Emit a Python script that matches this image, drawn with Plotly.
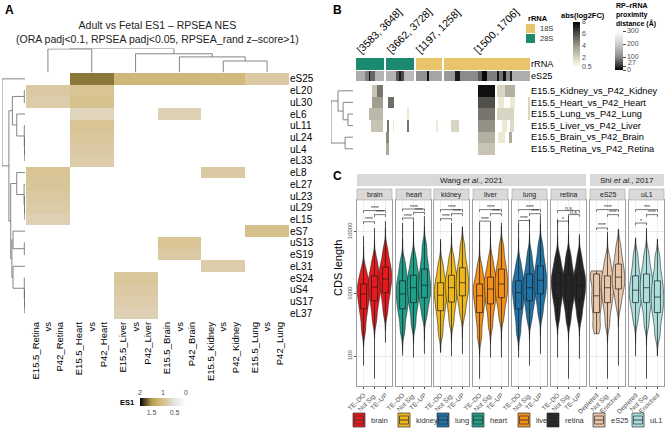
import numpy as np
import plotly.graph_objects as go

W, H = 669, 431
FONT = "Liberation Sans, Arial, Helvetica, sans-serif"
N = None

# ---------------- Panel A: ES1 heatmap ----------------
a_rows = ["eS25", "eL20", "uL30", "eL6", "uL11", "uL24", "uL4", "eL33", "eL8", "eL27", "uL23",
          "uL29", "eL15", "eS7", "uS13", "eS19", "eL31", "eS24", "uS4", "uS17", "eL37"]
a_cols = ["Retina", "Heart", "Liver", "Brain", "Kidney", "Lung"]
es1_retina = [N, 0.85, 0.80, N, N, N, N, N, 0.95, 0.92, 0.88, 0.82, 0.75, N, N, N, N, N, N, N, N]
es1_heart = [1.62, 0.95, 1.00, 0.70, 0.95, 0.90, 0.85, 0.80, N, N, N, N, N, N, N, N, N, N, N, N, N]
es1_liver = [1.15, N, N, N, N, N, N, N, N, N, N, N, N, N, N, N, N, 0.90, 0.85, 0.80, 0.75]
es1_brain = [1.15, N, N, 0.75, N, N, N, N, N, N, N, N, N, N, 0.95, 0.85, N, N, N, N, N]
es1_kidney = [1.12, N, N, N, N, N, N, N, 0.85, N, N, N, N, N, N, N, 0.80, N, N, N, N]
es1_lung = [0.85, N, N, N, N, N, N, N, N, N, N, N, N, 1.00, N, N, N, N, N, N, N]

# dendrograms as linkage lists (child a, child b, height); ids >= n are earlier merges
col_merge_a = [4, 3, 2, 0, 9]
col_merge_b = [5, 6, 7, 1, 8]
col_merge_h = [0.48, 0.65, 0.78, 0.98, 1.0]

row_merge_a = [1, 6, 5, 4, 3, 21, 11, 10, 9, 8, 14, 13, 19, 18, 17, 16, 32, 30, 26, 0]
row_merge_b = [2, 7, 22, 23, 24, 25, 12, 27, 28, 29, 15, 31, 20, 33, 34, 35, 36, 37, 38, 39]
row_merge_h = [0.03, 0.01, 0.02, 0.03, 0.36, 0.55, 0.01, 0.02, 0.04, 0.36,
               0.03, 0.52, 0.01, 0.02, 0.03, 0.52, 0.57, 0.62, 0.70, 1.0]

# ---------------- Panel B: abs(log2FC) per rRNA position ----------------
b_rows = ["E15.5_Kidney_vs_P42_Kidney", "E15.5_Heart_vs_P42_Heart", "E15.5_Lung_vs_P42_Lung",
          "E15.5_Liver_vs_P42_Liver", "E15.5_Brain_vs_P42_Brain", "E15.5_Retina_vs_P42_Retina"]
blk_rrna = ["28S", "28S", "18S", "18S"]
blk_start = [3583, 3662, 1197, 1500]
blk_end = [3648, 3728, 1258, 1706]

fc_row = [0, 0, 0, 0, 0, 0,
          1, 1, 1, 1, 1, 1,
          2, 2, 2, 2, 2,
          3, 3, 3, 3, 3, 3, 3, 3, 3,
          4, 4, 4, 4,
          5, 5]
fc_first = [3621, 3633, 3674, 1583, 1627, 1647,
            3621, 3668, 1583, 1631, 1659, 1702,
            3613, 3713, 1583, 1627, 1702,
            3618, 3666, 3680, 3713, 1245, 1518, 1583, 1639, 1659,
            3662, 1583, 1631, 1657,
            3662, 1583]
fc_last = [3632, 3647, 3674, 1623, 1646, 1671,
           3647, 3682, 1623, 1643, 1671, 1706,
           3647, 3717, 1623, 1667, 1706,
           3647, 3668, 3682, 3718, 1249, 1535, 1623, 1651, 1667,
           3670, 1623, 1647, 1663,
           3670, 1623]
fc_value = [2.6, 5.0, 1.5, 7.6, 2.0, 3.3,
            3.9, 5.2, 6.0, 1.3, 1.3, 2.0,
            3.0, 1.3, 5.0, 2.0, 2.0,
            2.6, 5.0, 1.3, 5.0, 1.3, 2.0, 4.3, 1.3, 1.8,
            4.5, 3.3, 1.3, 3.5,
            3.5, 2.6]

# eS25 - rRNA proximity distance (Angstrom)
dist_first = [3583, 3605, 3613, 3617, 3629, 3662, 3686, 3694, 3698, 3705, 1197, 1223, 1229,
              1500, 1527, 1539, 1583, 1591, 1603, 1627, 1632, 1643, 1649, 1659, 1665]
dist_last = [3604, 3612, 3616, 3628, 3648, 3685, 3693, 3697, 3704, 3728, 1222, 1228, 1258,
             1526, 1538, 1582, 1590, 1602, 1626, 1631, 1642, 1648, 1658, 1664, 1706]
dist_value = [150, 90, 10, 70, 160, 160, 60, 15, 50, 170, 110, 10, 140,
              120, 15, 100, 60, 5, 90, 10, 80, 10, 100, 20, 150]

# ---------------- Panel C: CDS length distributions (log10) ----------------
c_tissues = ["brain", "heart", "kidney", "liver", "lung", "retina", "eS25", "uL1"]
c_groups_wang = ["TE–DO", "Not Sig.", "TE–UP"]
c_groups_shi = ["Depleted", "Not Sig.", "Enriched"]
c_colors = {"brain": "#E41A1C", "heart": "#1F9E89", "kidney": "#EDB71E", "liver": "#F39019",
            "lung": "#1F73A5", "retina": "#262626", "eS25": "#E9C7AA", "uL1": "#ABDEDD"}

# ten equal-probability quantiles (5%..95%) of log10 CDS length
cds_quant = {
    "brain": [[2.42, 2.63, 2.76, 2.86, 2.95, 3.03, 3.09, 3.16, 3.25, 3.38],
              [2.58, 2.77, 2.89, 2.99, 3.07, 3.14, 3.21, 3.29, 3.39, 3.54],
              [2.71, 2.90, 3.02, 3.12, 3.20, 3.28, 3.35, 3.43, 3.53, 3.70]],
    "heart": [[2.42, 2.63, 2.76, 2.86, 2.95, 3.04, 3.12, 3.21, 3.33, 3.50],
              [2.52, 2.73, 2.86, 2.96, 3.05, 3.14, 3.21, 3.30, 3.41, 3.58],
              [2.66, 2.83, 2.94, 3.03, 3.10, 3.19, 3.29, 3.40, 3.54, 3.76]],
    "kidney": [[2.38, 2.59, 2.73, 2.84, 2.93, 3.02, 3.09, 3.18, 3.29, 3.46],
               [2.55, 2.74, 2.87, 2.97, 3.06, 3.14, 3.21, 3.30, 3.41, 3.58],
               [2.68, 2.85, 2.97, 3.06, 3.14, 3.23, 3.32, 3.42, 3.55, 3.76]],
    "liver": [[2.32, 2.55, 2.70, 2.82, 2.92, 3.01, 3.08, 3.16, 3.26, 3.43],
              [2.50, 2.71, 2.84, 2.94, 3.03, 3.12, 3.19, 3.27, 3.37, 3.54],
              [2.63, 2.82, 2.94, 3.03, 3.12, 3.21, 3.30, 3.40, 3.53, 3.74]],
    "lung": [[2.40, 2.62, 2.76, 2.87, 2.97, 3.06, 3.13, 3.21, 3.31, 3.48],
             [2.60, 2.77, 2.89, 2.98, 3.06, 3.14, 3.23, 3.32, 3.44, 3.63],
             [2.69, 2.88, 3.00, 3.09, 3.18, 3.26, 3.35, 3.45, 3.58, 3.77]],
    "retina": [[2.63, 2.82, 2.94, 3.03, 3.12, 3.19, 3.26, 3.34, 3.44, 3.59],
               [2.58, 2.77, 2.89, 2.98, 3.07, 3.15, 3.23, 3.32, 3.44, 3.61],
               [2.63, 2.80, 2.92, 3.01, 3.09, 3.17, 3.24, 3.32, 3.42, 3.59]],
    "eS25": [[2.42, 2.52, 2.70, 2.82, 2.92, 3.02, 3.15, 3.28, 3.32, 3.35],
             [2.52, 2.73, 2.86, 2.96, 3.05, 3.13, 3.21, 3.29, 3.40, 3.56],
             [2.81, 2.98, 3.08, 3.16, 3.23, 3.31, 3.39, 3.48, 3.60, 3.77]],
    "uL1": [[2.58, 2.75, 2.86, 2.95, 3.02, 3.10, 3.19, 3.29, 3.42, 3.61],
            [2.52, 2.73, 2.86, 2.96, 3.05, 3.14, 3.23, 3.32, 3.44, 3.63],
            [2.35, 2.56, 2.70, 2.81, 2.90, 3.00, 3.10, 3.21, 3.35, 3.57]],
}
cds_min = {"brain": [1.85, 1.64, 2.22], "heart": [2.01, 1.98, 2.04], "kidney": [2.06, 2.00, 2.04],
           "liver": [1.64, 1.98, 1.98], "lung": [1.98, 1.85, 2.04], "retina": [1.98, 1.64, 1.96],
           "eS25": [2.36, 1.64, 1.85], "uL1": [2.00, 1.64, 2.00]}
cds_max = {"brain": [3.93, 4.06, 4.17], "heart": [4.14, 4.18, 4.25], "kidney": [3.88, 4.14, 4.08],
           "liver": [4.14, 4.14, 4.14], "lung": [4.14, 4.20, 4.25], "retina": [4.20, 4.25, 3.96],
           "eS25": [3.37, 4.00, 4.04], "uL1": [3.90, 4.06, 3.88]}
cds_q1 = {"brain": [2.76, 2.89, 3.02], "heart": [2.76, 2.86, 2.94], "kidney": [2.73, 2.87, 2.97],
          "liver": [2.70, 2.84, 2.94], "lung": [2.76, 2.89, 3.00], "retina": [2.94, 2.89, 2.92],
          "eS25": [2.70, 2.86, 3.08], "uL1": [2.86, 2.86, 2.70]}
cds_med = {"brain": [3.00, 3.11, 3.24], "heart": [3.00, 3.10, 3.14], "kidney": [2.98, 3.10, 3.18],
           "liver": [2.97, 3.08, 3.16], "lung": [3.02, 3.10, 3.22], "retina": [3.16, 3.11, 3.13],
           "eS25": [2.97, 3.10, 3.27], "uL1": [3.06, 3.10, 2.95]}
cds_q3 = {"brain": [3.16, 3.29, 3.43], "heart": [3.21, 3.30, 3.40], "kidney": [3.18, 3.30, 3.42],
          "liver": [3.16, 3.27, 3.40], "lung": [3.21, 3.32, 3.45], "retina": [3.34, 3.32, 3.32],
          "eS25": [3.32, 3.29, 3.48], "uL1": [3.29, 3.32, 3.21]}

# significance brackets: (all three, middle-right, left-middle)
sig_y = {"brain": [4.34, 4.275, 4.16], "heart": [4.365, 4.31, 4.22], "kidney": [4.355, 4.29, 4.21],
         "liver": [4.355, 4.29, 4.17], "lung": [4.355, 4.29, 4.18], "retina": [4.34, 4.275, 4.17],
         "eS25": [4.355, 4.275, 4.06], "uL1": [4.355, 4.275, 4.14]}
sig_text = {"brain": ["****", "****", "****"], "heart": ["****", "****", "****"],
            "kidney": ["****", "****", "****"], "liver": ["****", "****", "****"],
            "lung": ["****", "****", "****"], "retina": ["n.s.", "n.s.", "*"],
            "eS25": ["****", "****", "****"], "uL1": ["***", "****", "*"]}
sig_pairs = [(0, 2), (1, 2), (0, 1)]
legend_order = ["brain", "kidney", "lung", "heart", "liver", "retina", "eS25", "uL1"]


def px_x(p):
    return p / W


def px_y(p):
    return 1 - p / H


def note(x, y, text, size, color="black", xanchor="center", yanchor="middle", **kw):
    # annotation placed in page pixels
    return dict(x=px_x(x), y=px_y(y), xref="paper", yref="paper", text=text, showarrow=False,
                xanchor=xanchor, yanchor=yanchor, font=dict(size=size, color=color), **kw)


def dendro_lines(ma, mb, mh, leaf_pos):
    pos = list(leaf_pos)
    hgt = [0.0] * len(leaf_pos)
    xs, ys = [], []
    for a, b, h in zip(ma, mb, mh):
        for c in (a, b):
            xs += [pos[c], pos[c], None]
            ys += [hgt[c], h, None]
        xs += [pos[a], pos[b], None]
        ys += [h, h, None]
        pos.append((pos[a] + pos[b]) / 2)
        hgt.append(h)
    return xs, ys


fig = go.Figure()
ann = []
shapes = []

# ================= Panel A =================
es1 = np.array([es1_retina, es1_heart, es1_liver, es1_brain, es1_kidney, es1_lung], dtype=float).T
es1_scale = [[0.0, "#000000"], [0.125, "#5E5128"], [0.25, "#B39A4A"], [0.4, "#CDB373"],
             [0.5, "#D6C18C"], [0.6, "#DCCCAA"], [0.75, "#E8E4E2"], [1.0, "#FFFFFF"]]
cb_a_left, cb_a_len = 140, 46
fig.add_trace(go.Heatmap(
    z=-es1, x=list(range(6)), y=list(range(len(a_rows))), colorscale=es1_scale,
    zmin=-2, zmax=0, hoverinfo="skip",
    colorbar=dict(orientation="h", x=px_x(cb_a_left + cb_a_len / 2), xanchor="center",
                  y=px_y(398), yanchor="top", len=cb_a_len, lenmode="pixels", thickness=8,
                  xpad=0, ypad=0, outlinewidth=0, tickvals=[-1.5, -0.5], ticktext=["1.5", "0.5"],
                  ticks="", tickfont=dict(size=7, color="#4D4D4D")),
))
for v in (2, 1, 0):
    ann.append(note(cb_a_left + (2 - v) / 2 * cb_a_len, 392, str(v), 7, "#4D4D4D"))
ann.append(note(136, 402, "<b>ES1</b>", 7.5, xanchor="right"))

cx, cy = dendro_lines(col_merge_a, col_merge_b, col_merge_h, range(6))
fig.add_trace(go.Scatter(x=cx, y=cy, mode="lines", line=dict(color="#666666", width=0.8),
                         hoverinfo="skip", xaxis="x2", yaxis="y2"))
rx, ry = dendro_lines(row_merge_a, row_merge_b, row_merge_h, range(len(a_rows)))
fig.add_trace(go.Scatter(x=ry, y=rx, mode="lines", line=dict(color="#666666", width=0.8),
                         hoverinfo="skip", xaxis="x3", yaxis="y3"))

ann.append(note(157, 32, "Adult vs Fetal ES1 – RPSEA NES<br>"
                "(ORA padj<0.1, RPSEA padj<0.05, RPSEA_rand z–score>1)", 10.5, "#222222"))

# ================= Panel B =================
GAP = 5
col_nt, col_blk, blk_center = [], [], []
for k in range(len(blk_start)):
    if k:
        col_nt += [None] * GAP
        col_blk += [None] * GAP
    first = len(col_nt)
    col_nt += list(range(blk_start[k], blk_end[k] + 1))
    col_blk += [k] * (blk_end[k] - blk_start[k] + 1)
    blk_center.append((first + len(col_nt) - 1) / 2)
ncol = len(col_nt)
nt_index = {nt: i for i, nt in enumerate(col_nt) if nt is not None}

rrna_z = np.full((1, ncol), np.nan)
for i, k in enumerate(col_blk):
    if k is not None:
        rrna_z[0, i] = 0 if blk_rrna[k] == "28S" else 1
fc_z = np.full((len(b_rows), ncol), np.nan)
for r, a, b, v in zip(fc_row, fc_first, fc_last, fc_value):
    fc_z[r, nt_index[a]:nt_index[b] + 1] = v
dist_z = np.full((1, ncol), np.nan)
for a, b, v in zip(dist_first, dist_last, dist_value):
    dist_z[0, nt_index[a]:nt_index[b] + 1] = v

c18, c28 = "#E9C46A", "#1B8A6E"
xs_b = list(range(ncol))
fig.add_trace(go.Heatmap(z=rrna_z, x=xs_b, y=[58, 70], zmin=0, zmax=1, showscale=False,
                         colorscale=[[0, c28], [0.5, c28], [0.5, c18], [1, c18]], hoverinfo="skip",
                         xaxis="x4", yaxis="y4"))
prox_top, prox_len = 31, 39
fig.add_trace(go.Heatmap(
    z=dist_z, x=xs_b, y=[71, 81], zmin=0, zmax=300, hoverinfo="skip", xaxis="x4", yaxis="y4",
    colorscale=[[0, "#000000"], [0.09, "#2E2E2E"], [0.33, "#8A8A8A"], [0.67, "#CFCFCF"], [1, "#FFFFFF"]],
    colorbar=dict(x=px_x(615), xanchor="left", y=px_y(prox_top), yanchor="top", len=prox_len,
                  lenmode="pixels", thickness=8, xpad=0, ypad=0, outlinewidth=0,
                  tickvals=[0, 27, 100, 200, 300], ticktext=["0", "", "100", "200", "300"],
                  ticks="outside", ticklen=3, tickcolor="#4D4D4D", tickfont=dict(size=7, color="#4D4D4D")),
))
ann.append(note(626, prox_top + prox_len * (1 - 27 / 300) - 4, "27", 7, "#4D4D4D", xanchor="left"))
fc_edges = [85 + 11.6 * i for i in range(len(b_rows) + 1)]
fc_centers = [(fc_edges[i] + fc_edges[i + 1]) / 2 for i in range(len(b_rows))]
fig.add_trace(go.Heatmap(
    z=fc_z, x=xs_b, y=fc_edges, zmin=0.5, zmax=8, hoverinfo="skip", xaxis="x4", yaxis="y4",
    colorscale=[[0, "#FFFDE8"], [0.2, "#D9D5C3"], [0.47, "#9E9A8E"], [0.73, "#52504B"], [1, "#000000"]],
    colorbar=dict(x=px_x(573), xanchor="left", y=px_y(22), yanchor="top", len=45, lenmode="pixels",
                  thickness=7, xpad=0, ypad=0, outlinewidth=0, tickvals=[0.5, 2, 4, 6, 8],
                  ticktext=["0.5", "2", "4", "6", "8"], ticks="", tickfont=dict(size=7, color="#4D4D4D")),
))
bx, by = dendro_lines([2, 1, 0, 4, 8], [3, 6, 7, 5, 9], [0.23, 0.45, 0.68, 0.36, 1.0], fc_centers)
fig.add_trace(go.Scatter(x=by, y=bx, mode="lines", line=dict(color="#666666", width=0.8),
                         hoverinfo="skip", xaxis="x5", yaxis="y5"))

for k in range(len(blk_start)):
    ann.append(dict(x=blk_center[k], y=px_y(31), xref="x4", yref="paper", xshift=9,
                    xanchor="center", yanchor="middle",
                    text=f"[{blk_start[k]}, {blk_end[k]}]", textangle=-45, showarrow=False,
                    font=dict(size=10.5)))
ann.append(note(526, 19, "<b>rRNA</b>", 7.5, xanchor="left"))
for j, (lab, col) in enumerate([("18S", c18), ("28S", c28)]):
    top = 24 + 10 * j
    shapes.append(dict(type="rect", xref="paper", yref="paper", x0=px_x(526), x1=px_x(535),
                       y0=px_y(top + 9), y1=px_y(top), fillcolor=col, line=dict(width=0)))
    ann.append(note(538, top + 4.5, lab, 7.5, "#333333", xanchor="left"))
ann.append(note(583, 15, "<b>abs(log2FC)</b>", 7.5))
ann.append(note(614, 0, "<b>RP–rRNA<br>proximity<br>distance (Å)</b>", 7,
                xanchor="left", yanchor="top", align="left"))

# ================= Panel C =================
c_left = [357, 396, 434, 473, 512, 551, 590, 629]
c_width = 35
for i, t in enumerate(c_tissues):
    xa, ya = f"x{6 + i}", f"y{6 + i}"
    col = c_colors[t]
    for g in range(3):
        fig.add_trace(go.Violin(
            x=[g] * len(cds_quant[t][g]), y=cds_quant[t][g], orientation="v",
            span=[cds_min[t][g], cds_max[t][g]], spanmode="manual", bandwidth=0.11,
            width=1.15, scalemode="width", points=False, fillcolor=col,
            line=dict(color="#262626", width=0.6), hoverinfo="skip", xaxis=xa, yaxis=ya))
    q1, q3 = np.array(cds_q1[t]), np.array(cds_q3[t])
    fig.add_trace(go.Box(
        x=[0, 1, 2], q1=q1, median=cds_med[t], q3=q3,
        lowerfence=np.maximum(q1 - 1.5 * (q3 - q1), cds_min[t]),
        upperfence=np.minimum(q3 + 1.5 * (q3 - q1), cds_max[t]),
        width=0.55, whiskerwidth=0, fillcolor=col, line=dict(color="#1A1A1A", width=0.7),
        boxpoints=False, hoverinfo="skip", xaxis=xa, yaxis=ya))
    sx, sy = [], []
    for (a, b), yv, txt in zip(sig_pairs, sig_y[t], sig_text[t]):
        sx += [a, a, b, b, None]
        sy += [yv - 0.035, yv, yv, yv - 0.035, None]
        ann.append(dict(x=(a + b) / 2, y=yv, xref=xa, yref=ya, text=txt, showarrow=False,
                        xanchor="center", yanchor="bottom", yshift=-2.5,
                        font=dict(size=5, color="#1A1A1A")))
    fig.add_trace(go.Scatter(x=sx, y=sy, mode="lines", line=dict(color="#1A1A1A", width=0.6),
                             hoverinfo="skip", xaxis=xa, yaxis=ya))
    # facet strip
    shapes.append(dict(type="rect", xref="paper", yref="paper", x0=px_x(c_left[i]),
                       x1=px_x(c_left[i] + c_width), y0=px_y(200), y1=px_y(189),
                       fillcolor="#D9D9D9", line=dict(color="#A6A6A6", width=0.6)))
    ann.append(note(c_left[i] + c_width / 2, 194.5, t, 7, "#1A1A1A"))

for x0, x1, txt in [(357, 586, "Wang <i>et al.</i>, 2021"), (590, 664, "Shi <i>et al.</i>, 2017")]:
    shapes.append(dict(type="rect", xref="paper", yref="paper", x0=px_x(x0), x1=px_x(x1),
                       y0=px_y(186), y1=px_y(174), fillcolor="#D9D9D9", line=dict(width=0)))
    ann.append(note((x0 + x1) / 2, 180, txt, 8, "#1A1A1A"))

ann.append(note(338, 268, "CDS length", 11, textangle=-90))

# manual legend for panel C
leg_x = [353, 398, 437, 472, 518, 547, 593, 632]
for lx, t in zip(leg_x, legend_order):
    shapes.append(dict(type="rect", xref="paper", yref="paper", x0=px_x(lx), x1=px_x(lx + 12),
                       y0=px_y(427), y1=px_y(413), fillcolor=c_colors[t],
                       line=dict(color="#333333", width=0.7)))
    shapes.append(dict(type="rect", xref="paper", yref="paper", x0=px_x(lx + 1.5), x1=px_x(lx + 10.5),
                       y0=px_y(424), y1=px_y(416), line=dict(color="#333333", width=0.7)))
    shapes.append(dict(type="line", xref="paper", yref="paper", x0=px_x(lx + 1.5), x1=px_x(lx + 10.5),
                       y0=px_y(420), y1=px_y(420), line=dict(color="#333333", width=0.9)))
    ann.append(note(lx + 16, 420, t, 7.5, "#333333", xanchor="left"))

# panel letters
for lab, x, y in [("A", 9, 10), ("B", 337, 10), ("C", 337, 176)]:
    ann.append(note(x, y, f"<b>{lab}</b>", 12))

hidden = dict(visible=False, showgrid=False, zeroline=False, automargin=False)
layout_axes = dict(
    xaxis=dict(domain=[px_x(26), px_x(289)], range=[-0.5, 5.5], anchor="y", showgrid=False,
               zeroline=False, tickvals=list(range(6)), tickangle=-90, ticks="", automargin=False,
               ticktext=[f"E15.5_{c}<br>vs<br>P42_{c}" for c in a_cols], tickfont=dict(size=9.5)),
    yaxis=dict(domain=[px_y(319), px_y(73)], range=[len(a_rows) - 0.5, -0.5], anchor="x",
               side="right", showgrid=False, zeroline=False, tickvals=list(range(len(a_rows))),
               ticktext=a_rows, ticks="", tickfont=dict(size=10), automargin=False),
    xaxis2=dict(domain=[px_x(26), px_x(289)], range=[-0.5, 5.5], anchor="y2", **hidden),
    yaxis2=dict(domain=[px_y(72.5), px_y(48.5)], range=[0, 1.0], anchor="x2", **hidden),
    xaxis3=dict(domain=[px_x(2), px_x(25)], range=[1.0, 0], anchor="y3", **hidden),
    yaxis3=dict(domain=[px_y(319), px_y(73)], range=[len(a_rows) - 0.5, -0.5], anchor="x3", **hidden),
    xaxis4=dict(domain=[px_x(356), px_x(530)], range=[-0.5, ncol - 0.5], anchor="y4", **hidden),
    yaxis4=dict(domain=[px_y(157), px_y(56)], range=[157, 56], anchor="x4", side="right",
                showgrid=False, zeroline=False, tickvals=[64, 76] + fc_centers, automargin=False,
                ticktext=["rRNA", "eS25"] + b_rows, ticks="", tickfont=dict(size=9.2)),
    xaxis5=dict(domain=[px_x(331), px_x(353)], range=[1.0, 0], anchor="y5", **hidden),
    yaxis5=dict(domain=[px_y(157), px_y(56)], range=[157, 56], anchor="x5", **hidden),
)
for i, t in enumerate(c_tissues):
    groups = c_groups_shi if t in ("eS25", "uL1") else c_groups_wang
    layout_axes[f"xaxis{6 + i}"] = dict(
        domain=[px_x(c_left[i]), px_x(c_left[i] + c_width)], range=[-0.6, 2.6], anchor=f"y{6 + i}",
        tickvals=[0, 1, 2], ticktext=groups, tickangle=-45, tickfont=dict(size=6.5, color="#4D4D4D"),
        ticks="outside", ticklen=2, tickcolor="#4D4D4D", showgrid=True, gridcolor="#EFEFEF",
        gridwidth=0.6, zeroline=False, showline=True, mirror=True, linecolor="#9E9E9E", linewidth=0.8,
        automargin=False)
    layout_axes[f"yaxis{6 + i}"] = dict(
        domain=[px_y(386), px_y(200)], range=[1.52, 4.51], anchor=f"x{6 + i}",
        tickvals=[2, 3, 4], ticktext=["100", "1000", "10000"], tickangle=-90,
        showticklabels=(i == 0), ticks="outside" if i == 0 else "", ticklen=2, tickcolor="#4D4D4D",
        tickfont=dict(size=6, color="#4D4D4D"), showgrid=True, gridcolor="#EBEBEB", gridwidth=0.6,
        minor=dict(tickvals=[2.5, 3.5, 4.5], showgrid=True, gridcolor="#F5F5F5", ticks=""),
        zeroline=False, showline=True, mirror=True, linecolor="#9E9E9E", linewidth=0.8,
        automargin=False)
    if i:
        layout_axes[f"yaxis{6 + i}"]["matches"] = "y6"

fig.update_layout(
    width=W, height=H, margin=dict(l=0, r=0, t=0, b=0, pad=0),
    paper_bgcolor="white", plot_bgcolor="white", showlegend=False,
    font=dict(family=FONT, color="black"),
    annotations=ann, shapes=shapes,
    **layout_axes,
)

# drop the browser's default body margin so the figure sits at the page origin
fig.write_html("out.html", config={"displayModeBar": False},
               post_script="document.body.style.margin = '0px';")
